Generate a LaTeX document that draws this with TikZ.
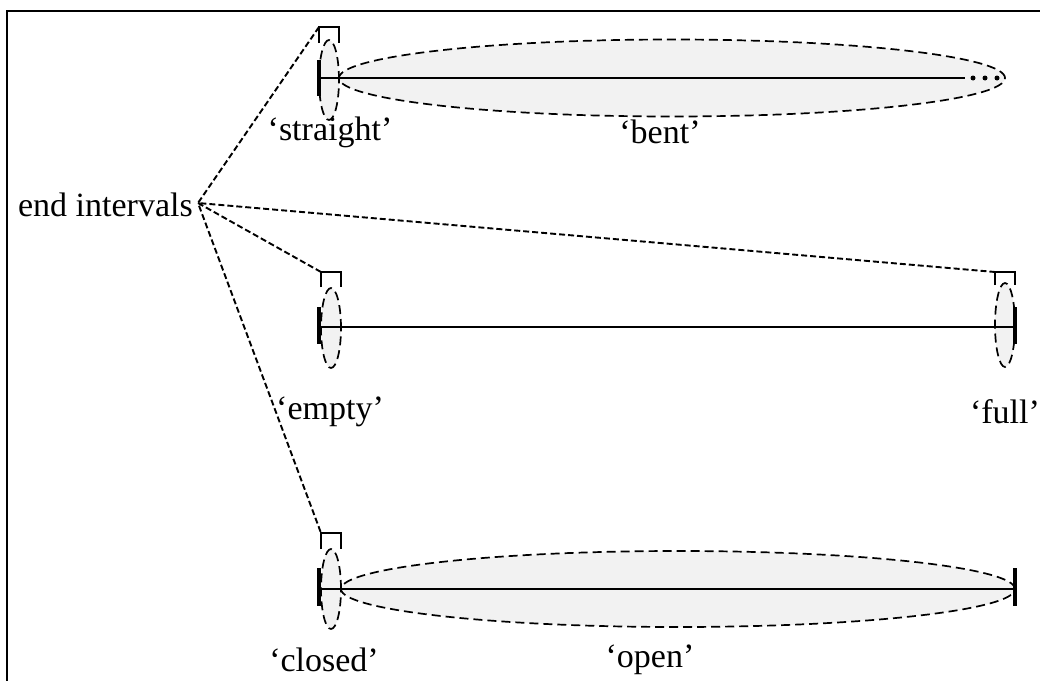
\documentclass[tikz,border=0pt]{standalone}
\usepackage{fontspec}
\setmainfont{Liberation Serif}
\usetikzlibrary{shapes.geometric}
\begin{document}
\begin{tikzpicture}[x=1pt,y=-1pt,
  lbl/.style={font=\fontsize{34}{40}\selectfont, inner sep=0},
  zone/.style={ellipse, draw, dash pattern=on 9pt off 5pt, line width=1.7pt, fill=black!5, inner sep=0},
  link/.style={dash pattern=on 6pt off 3pt, line width=1.9pt},
  seg/.style={line width=2.2pt},
  bar/.style={line width=4.5pt},
  brk/.style={line width=1.8pt},
  dotm/.style={circle, fill, inner sep=0, minimum size=5pt}]
\useasboundingbox (0,0) rectangle (1040,680);
\draw[line width=2pt] (7,700) -- (7,11) -- (1060,11);

% row 1
\node[zone, minimum width=666, minimum height=77] (bent) at (672,78) {};
\node[zone, minimum width=20, minimum height=80] (s1) at (329,80) {};
\coordinate (a1) at (319,78);
\coordinate (b1) at (965,78);
\draw[seg] (a1) -- (b1);
\node[dotm] (d1) at (973,78) {};
\node[dotm] (d2) at (985,78) {};
\node[dotm] (d3) at (997,78) {};
\coordinate (bt1) at (319,60);
\coordinate (bb1) at (319,96);
\draw[bar] (bt1) -- (bb1);
\coordinate (k1) at (319,27);
\coordinate (k1r) at (339,27);
\coordinate (k1a) at (319,43);
\coordinate (k1b) at (339,43);
\draw[brk] (k1a) -- (k1) -- (k1r) -- (k1b);
\node[lbl] (lstraight) at (330,132) {‘straight’};
\node[lbl] (lbent) at (660,132) {‘bent’};

% row 2
\node[zone, minimum width=20, minimum height=80] (s2) at (331,328) {};
\node[zone, minimum width=20, minimum height=84] (f2) at (1005,325) {};
\coordinate (a2) at (319,327);
\coordinate (b2) at (1015,327);
\draw[seg] (a2) -- (b2);
\coordinate (bt2) at (319,307);
\coordinate (bb2) at (319,344);
\draw[bar] (bt2) -- (bb2);
\coordinate (ct2) at (1015,307);
\coordinate (cb2) at (1015,344);
\draw[bar] (ct2) -- (cb2);
\coordinate (k2) at (321,272);
\coordinate (k2r) at (341,272);
\coordinate (k2a) at (321,287);
\coordinate (k2b) at (341,287);
\draw[brk] (k2a) -- (k2) -- (k2r) -- (k2b);
\coordinate (k4) at (995,272);
\coordinate (k4r) at (1015,272);
\coordinate (k4a) at (995,285);
\coordinate (k4b) at (1015,285);
\draw[brk] (k4a) -- (k4) -- (k4r) -- (k4b);
\node[lbl] (lempty) at (330,412) {‘empty’};
\node[lbl] (lfull) at (1005,412) {‘full’};

% row 3
\node[zone, minimum width=674, minimum height=76] (open) at (678,589) {};
\node[zone, minimum width=20, minimum height=80] (s3) at (331,589) {};
\coordinate (a3) at (319,589);
\coordinate (b3) at (1015,589);
\draw[seg] (a3) -- (b3);
\coordinate (bt3) at (319,568);
\coordinate (bb3) at (319,606);
\draw[bar] (bt3) -- (bb3);
\coordinate (ct3) at (1015,568);
\coordinate (cb3) at (1015,606);
\draw[bar] (ct3) -- (cb3);
\coordinate (k3) at (321,533);
\coordinate (k3r) at (341,533);
\coordinate (k3a) at (321,549);
\coordinate (k3b) at (341,549);
\draw[brk] (k3a) -- (k3) -- (k3r) -- (k3b);
\node[lbl] (lclosed) at (324,660) {‘closed’};
\node[lbl] (lopen) at (650,660) {‘open’};

% label and connectors
\node[lbl, anchor=east] (ei) at (193,205) {end intervals};
\coordinate (hub) at (198,203);
\draw[link] (k1) -- (hub) -- (k4);
\draw[link] (k2) -- (hub) -- (k3);
\end{tikzpicture}
\end{document}
